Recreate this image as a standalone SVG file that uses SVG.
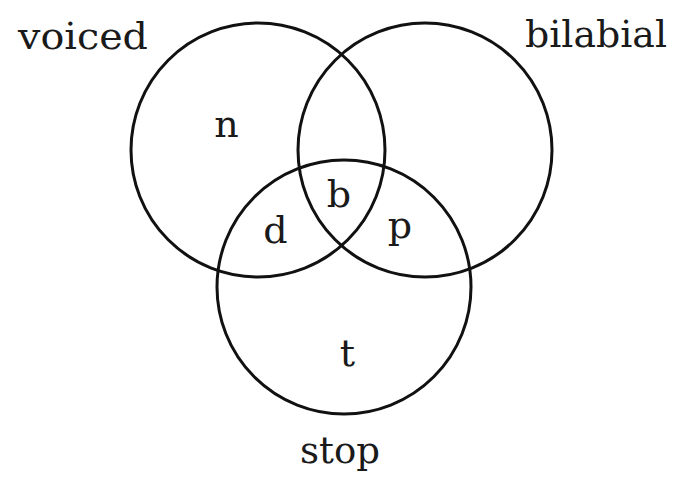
<svg xmlns="http://www.w3.org/2000/svg" width="682" height="484" viewBox="0 0 682 484">
<style>
.c{fill:none;stroke:#111;stroke-width:3}
.t{font-family:"DejaVu Serif","Liberation Serif",serif;font-size:38px;fill:#1a1a1a;text-anchor:middle}
</style>
<rect width="682" height="484" fill="#fff"/>
<g id="voiced">
<circle class="c" cx="258" cy="150" r="127"/>
<text class="t" x="83" y="49" textLength="130" lengthAdjust="spacingAndGlyphs">voiced</text>
</g>
<g id="bilabial">
<circle class="c" cx="425" cy="150" r="127"/>
<text class="t" x="596" y="47" textLength="142" lengthAdjust="spacingAndGlyphs">bilabial</text>
</g>
<g id="stop">
<circle class="c" cx="344" cy="287" r="127"/>
<text class="t" x="340" y="463" textLength="80" lengthAdjust="spacingAndGlyphs">stop</text>
</g>
<g id="connectors"></g>
<g id="members">
<text class="t" x="226.5" y="137">n</text>
<text class="t" x="339" y="207">b</text>
<text class="t" x="275.5" y="243">d</text>
<text class="t" x="400" y="238">p</text>
<text class="t" x="347.5" y="366">t</text>
</g>
</svg>
